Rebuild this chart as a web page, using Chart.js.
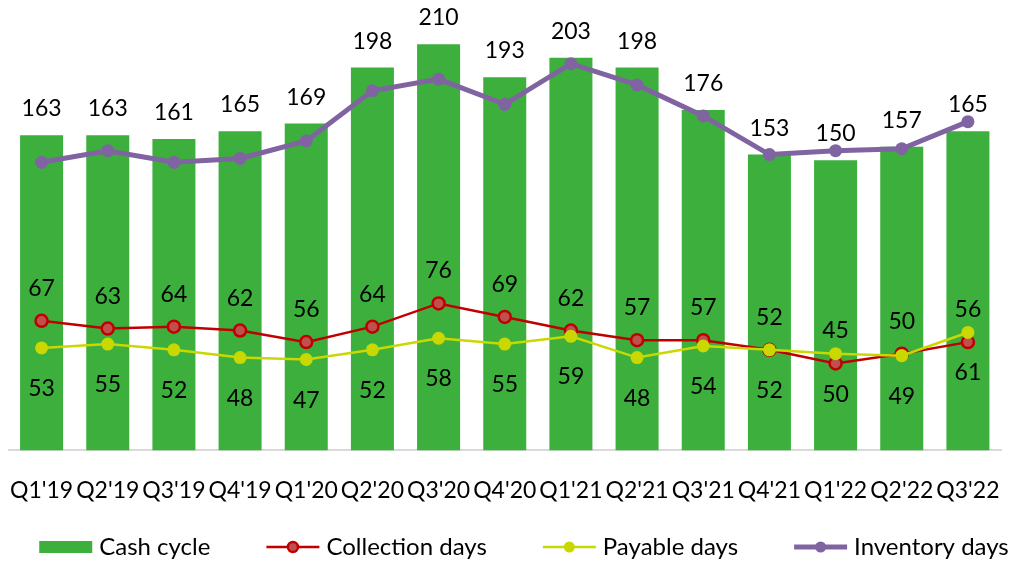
<!DOCTYPE html>
<html>
<head>
<meta charset="utf-8">
<script src="https://cdn.jsdelivr.net/npm/chart.js@4.4.0/dist/chart.umd.min.js"></script>
<style>
    html, body { margin: 0; padding: 0; background: #fff; }
    #wrap { width: 1014px; height: 565px; position: relative; }
</style>
</head>
<body>
<div id="wrap"><canvas id="cycleChart" width="1014" height="565"></canvas></div>
<script>
// Data
const categories = ["Q1'19", "Q2'19", "Q3'19", "Q4'19", "Q1'20", "Q2'20", "Q3'20", "Q4'20", "Q1'21", "Q2'21", "Q3'21", "Q4'21", "Q1'22", "Q2'22", "Q3'22"];
const cashCycle = [163, 163, 161, 165, 169, 198, 210, 193, 203, 198, 176, 153, 150, 157, 165];
const collectionDays = [67, 63, 64, 62, 56, 64, 76, 69, 62, 57, 57, 52, 45, 50, 56];
const payableDays = [53, 55, 52, 48, 47, 52, 58, 55, 59, 48, 54, 52, 50, 49, 61];
const inventoryDays = [149, 155, 149, 151, 160, 186, 192, 179, 200, 189, 173, 153, 155, 156, 170];

const FONT = 'Lato, "Open Sans", sans-serif';
const colors = {
    bar: '#3CAF3C',
    collection: '#C00000',
    collectionFill: '#C0504D',
    payable: '#C8D800',
    inventory: '#8064A2'
};

// Value labels: bars above, collection above the point, payable below
const valueLabels = {
    id: 'valueLabels',
    afterDatasetsDraw(chart) {
        const ctx = chart.ctx;
        ctx.save();
        ctx.font = '23px ' + FONT;
        ctx.fillStyle = '#000';
        ctx.textAlign = 'center';
        ctx.textBaseline = 'alphabetic';
        const offsets = { 0: -19, 1: -25, 2: 48 };
        chart.data.datasets.forEach((ds, i) => {
            if (!(i in offsets)) return;
            chart.getDatasetMeta(i).data.forEach((el, j) => {
                ctx.fillText(ds.data[j], el.x, el.y + offsets[i]);
            });
        });
        ctx.restore();
    }
};

// Legend at the bottom: line with marker in the middle for line series
const bottomLegend = {
    id: 'bottomLegend',
    afterDraw(chart) {
        const ctx = chart.ctx;
        ctx.save();
        ctx.font = '24px ' + FONT;
        ctx.textBaseline = 'alphabetic';
        const symW = 53, gap = 7, spacing = 56;
        const items = chart.data.datasets.map(ds => ds);
        let total = 0;
        items.forEach((ds, i) => {
            total += symW + gap + ctx.measureText(ds.label).width + (i < items.length - 1 ? spacing : 0);
        });
        let x = 524 - total / 2;
        const cy = 547;
        items.forEach(ds => {
            if (ds.type === 'bar') {
                ctx.fillStyle = ds.backgroundColor;
                ctx.fillRect(x, cy - 6, symW, 12);
            } else {
                ctx.strokeStyle = ds.borderColor;
                ctx.lineWidth = ds.borderWidth;
                ctx.beginPath();
                ctx.moveTo(x, cy);
                ctx.lineTo(x + symW, cy);
                ctx.stroke();
                ctx.beginPath();
                ctx.arc(x + symW / 2, cy, ds.pointRadius - 1, 0, Math.PI * 2);
                ctx.fillStyle = ds.pointBackgroundColor;
                ctx.fill();
                if (ds.pointBorderWidth) {
                    ctx.lineWidth = ds.pointBorderWidth;
                    ctx.strokeStyle = ds.pointBorderColor;
                    ctx.stroke();
                }
            }
            x += symW + gap;
            ctx.fillStyle = '#000';
            ctx.fillText(ds.label, x, cy + 8);
            x += ctx.measureText(ds.label).width + spacing;
        });
        ctx.restore();
    }
};

document.addEventListener('DOMContentLoaded', function() {
    const ctx = document.getElementById('cycleChart').getContext('2d');
    new Chart(ctx, {
        data: {
            labels: categories,
            datasets: [{
                type: 'bar',
                label: 'Cash cycle',
                data: cashCycle,
                backgroundColor: colors.bar,
                barPercentage: 0.65,
                categoryPercentage: 1,
                order: 4
            }, {
                type: 'line',
                label: 'Collection days',
                data: collectionDays,
                borderColor: colors.collection,
                borderWidth: 2.5,
                pointRadius: 6,
                pointBackgroundColor: colors.collectionFill,
                pointBorderColor: colors.collection,
                pointBorderWidth: 2.5,
                tension: 0,
                order: 3
            }, {
                type: 'line',
                label: 'Payable days',
                data: payableDays,
                borderColor: colors.payable,
                borderWidth: 2.5,
                pointRadius: 6.5,
                pointBackgroundColor: colors.payable,
                pointBorderColor: colors.payable,
                pointBorderWidth: 0,
                tension: 0,
                order: 2
            }, {
                type: 'line',
                label: 'Inventory days',
                data: inventoryDays,
                borderColor: colors.inventory,
                borderWidth: 5,
                pointRadius: 6.5,
                pointBackgroundColor: colors.inventory,
                pointBorderColor: colors.inventory,
                pointBorderWidth: 0,
                tension: 0,
                order: 1
            }]
        },
        options: {
            responsive: false,
            animation: false,
            layout: { padding: { left: 5, right: 13, top: 25, bottom: 61 } },
            plugins: {
                legend: { display: false },
                tooltip: { enabled: false }
            },
            scales: {
                x: {
                    grid: { display: false, drawTicks: true, tickLength: 26 },
                    border: { display: true, color: '#D9D9D9', width: 2 },
                    ticks: { color: '#000', font: { family: FONT, size: 23 }, padding: 0, maxRotation: 0, autoSkip: false }
                },
                y: {
                    display: false,
                    min: 0,
                    max: 220
                }
            }
        },
        plugins: [valueLabels, bottomLegend]
    });
});
</script>
</body>
</html>
